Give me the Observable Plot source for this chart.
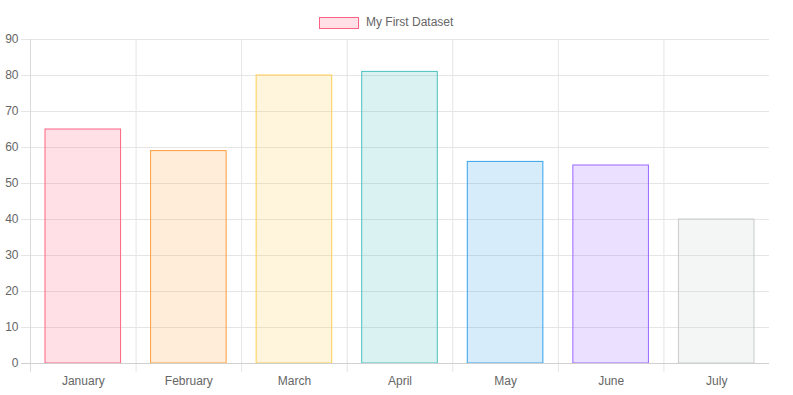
<!DOCTYPE html>
<html>
<head>
<meta charset="utf-8">
<script src="https://cdn.jsdelivr.net/npm/d3@7"></script>
<script src="https://cdn.jsdelivr.net/npm/@observablehq/plot@0.6"></script>
<style>
  html, body { margin: 0; padding: 0; background: #fff; }
  body { width: 793px; height: 395px; overflow: hidden; font-family: "Liberation Sans", Arial, sans-serif; }
  #legend { position: relative; height: 32px; }
  #legend .box { position: absolute; left: 319px; top: 17px; width: 38px; height: 10px; border: 1px solid rgb(255,99,132); background: rgba(255,99,132,0.2); }
  #legend .lbl { position: absolute; left: 366px; top: 15px; font-size: 12px; color: #666; line-height: 14px; }
  #chart svg { display: block; }
</style>
</head>
<body>
<div id="legend"><div class="box"></div><div class="lbl">My First Dataset</div></div>
<div id="chart"></div>
<script>
const months = ["January", "February", "March", "April", "May", "June", "July"];
const values = [65, 59, 80, 81, 56, 55, 40];
const fills = ["rgba(255,99,132,0.2)", "rgba(255,159,64,0.2)", "rgba(255,205,86,0.2)", "rgba(75,192,192,0.2)", "rgba(54,162,235,0.2)", "rgba(153,102,255,0.2)", "rgba(201,203,207,0.2)"];
const strokes = ["rgb(255,99,132)", "rgb(255,159,64)", "rgb(255,205,86)", "rgb(75,192,192)", "rgb(54,162,235)", "rgb(153,102,255)", "rgb(201,203,207)"];
const yTicks = [0, 10, 20, 30, 40, 50, 60, 70, 80, 90];

const data = months.map((m, i) => ({month: m, i, value: values[i], fill: fills[i], stroke: strokes[i]}));
const boundaries = d3.range(0, months.length);

const chart = Plot.plot({
  width: 793,
  height: 363,
  marginTop: 7,
  marginBottom: 32,
  marginLeft: 30,
  marginRight: 24,
  style: {fontFamily: "'Liberation Sans', Arial, sans-serif", fontSize: "12px", color: "#666", background: "#fff"},
  x: {domain: [0, months.length], axis: null},
  y: {domain: [0, 90], axis: null},
  marks: [
    Plot.ruleY(yTicks.filter(d => d !== 0), {y: d => d, x1: 0, x2: months.length, insetLeft: -9, stroke: "#e5e5e5"}),
    Plot.ruleX(boundaries.filter(d => d !== 0), {x: d => d, y1: 90, y2: 0, insetTop: 0, insetBottom: -9, stroke: "#e5e5e5"}),
    Plot.rectY(data, {x1: d => d.i, x2: d => d.i + 1, y: "value", fill: d => d.fill, stroke: d => d.stroke, strokeWidth: 1, insetLeft: 15, insetRight: 15}),
    Plot.ruleX([0], {x: d => d, y1: 90, y2: 0, insetTop: 0, insetBottom: -9, stroke: "#dadada"}),
    Plot.ruleY([0], {y: d => d, x1: 0, x2: months.length, insetLeft: -9, stroke: "#d0d0d0"}),
    Plot.text(yTicks, {x: 0, y: d => d, text: d => String(d), textAnchor: "end", dx: -12, fill: "#666"}),
    Plot.text(data, {x: d => d.i + 0.5, y: 0, text: "month", dy: 18, fill: "#666"})
  ]
});
document.getElementById("chart").appendChild(chart);
</script>
</body>
</html>
